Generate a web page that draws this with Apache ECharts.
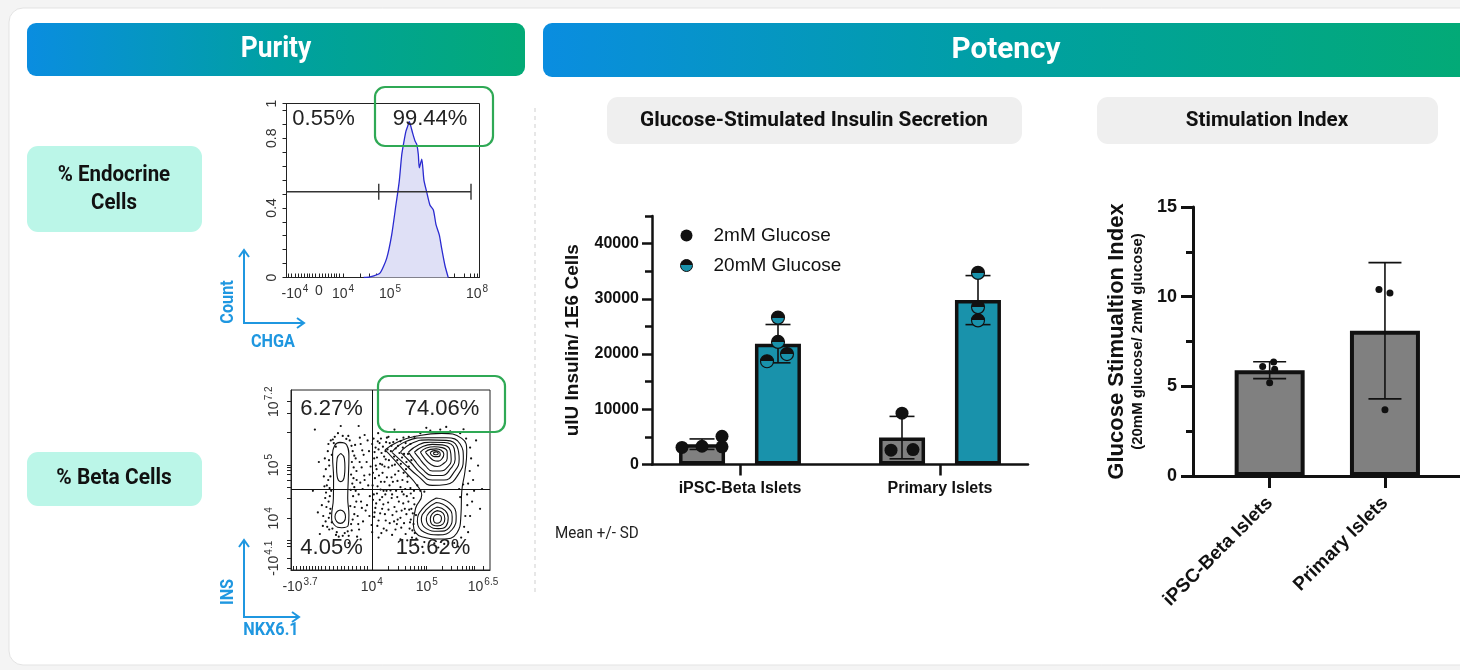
<!DOCTYPE html>
<html>
<head>
<meta charset="utf-8">
<title>Purity and Potency</title>
<script src="https://cdn.jsdelivr.net/npm/echarts@6.0.0/dist/echarts.min.js"></script>
<style>
html,body{margin:0;padding:0;background:#f4f4f4;}
#chart{width:1460px;height:670px;}
</style>
</head>
<body>
<div id="chart"></div>
<script>
// ---------------- data ----------------
// CHGA histogram: display channel (0-100) and normalised count
const HIST_X = [40, 43.3, 48.4, 51.9, 54.5, 56.7, 58.4, 59.7, 60.9, 61.9, 62.8, 63.6, 64.4, 65.4, 66.6, 67.5, 68.3, 68.8, 70.1, 71.2, 72.6, 74.3, 76.1, 77.5, 79.2, 80.4, 82.1, 83.8];
const HIST_Y = [0, 0.003, 0.025, 0.11, 0.245, 0.417, 0.551, 0.704, 0.784, 0.841, 0.87, 0.895, 0.87, 0.828, 0.784, 0.765, 0.707, 0.63, 0.68, 0.56, 0.493, 0.417, 0.388, 0.302, 0.244, 0.167, 0.069, 0];
const HIST_GATE = [47.8, 95.6, 0.493];           // gate from, gate to, drawn at count
const HIST_X_TICKS = [4.4, 16.8, 29.3, 53.6, 98.7];
const HIST_X_LABELS = ['-10^4', '0', '10^4', '10^5', '10^8'];
const HIST_X_MINOR = [1, 2.5, 4.4, 6, 7.5, 9, 10.5, 12, 13.5, 15, 16.8, 18.5, 20, 21.5, 23, 24.5, 26, 27.5, 29.3, 38, 43, 46.5, 49, 51, 52.5, 53.6, 62, 67, 70.5, 73, 75, 76.5, 77.5, 78.4, 87, 92, 95, 97.3, 98.7];
const HIST_Y_TICKS = [0, 0.4, 0.8, 1];
const HIST_Y_LABELS = ['0', '0.4', '0.8', '1'];
const HIST_Y_MINOR = [0, 0.08, 0.16, 0.24, 0.32, 0.4, 0.48, 0.56, 0.64, 0.72, 0.8, 0.88, 0.96, 1];
const HIST_PCT = ['0.55%', '99.44%'];

// NKX6.1 (x) vs INS (y) contour plot, display channels 0-100
const QUAD_SPLIT = [40.6, 44.8];
const CONT_X_TICKS = [4.5, 40.6, 68.2, 96.5];
const CONT_X_LABELS = ['-10^3.7', '10^4', '10^5', '10^6.5'];
const CONT_X_MINOR = [1, 2.5, 4.5, 6, 7.5, 9, 10.5, 12, 13.5, 15, 17, 19, 21, 23, 25, 27, 29, 31, 33, 35, 37, 38.5, 40.6, 48.9, 53.8, 57.2, 59.9, 62.1, 63.9, 65.5, 66.9, 68.2, 76, 80.5, 83.5, 86, 88, 89.5, 91, 92.2, 96.5];
const CONT_Y_TICKS = [6.5, 28.7, 58.3, 93.5];
const CONT_Y_LABELS = ['-10^4.1', '10^4', '10^5', '10^7.2'];
const CONT_Y_MINOR = [0.9, 6.5, 13, 14.8, 16.7, 28.7, 40, 46, 50, 53, 55.5, 57, 58.3, 76.8, 87, 93.5];
const QUAD_PCT = ['6.27%', '74.06%', '4.05%', '15.62%'];

const RINGS_LEFT = [
  [[24.6,70.9],[28.0,69.4],[29.1,63.0],[28.8,50.9],[28.5,39.8],[29.1,30.6],[28.8,25.0],[25.5,23.5],[21.8,25.0],[20.4,29.6],[21.3,39.8],[21.4,50.9],[20.9,63.0],[22.1,69.4]],
  [[25,64.8],[26.8,62],[27.1,57],[26.8,52],[25,49.1],[23.2,52],[22.9,57],[23.2,62]],
  [[24.8,33.3],[26.7,32.2],[27.4,29.6],[26.7,27],[24.8,25.9],[22.9,27],[22.1,29.6],[22.9,32.2]]
];
const RING_OUTER = [[47.2,66.7],[53.9,71.3],[64.0,74.6],[75.7,75.9],[85.8,73.1],[88.3,65.7],[87.4,54.6],[85.8,43.5],[85.4,30.6],[83.3,20.4],[75.7,17.2],[65.7,18.5],[61.5,25],[62.6,34.3],[65.7,41.7],[63.2,47.2],[57.3,54.6],[50.6,62.9]];
const RINGS_UPPER = [
  [[50.6,65.5],[58,71.5],[68,73.5],[78,73.5],[85,70],[86.6,62],[84,53],[78,47.5],[71,47],[64,52],[57,59]],
  [[55,65.5],[61,70.5],[69,72.3],[78,72],[83.5,68.5],[84.5,61.5],[82,54.5],[77,50],[71,50],[65,54],[60,60]],
  [[59,65.5],[64,69.5],[70,71],[77,70.8],[82,67.5],[82.5,61.5],[80,56],[76,52.5],[71,52.5],[66,56],[62,61]],
  [[62,65.5],[66,68.5],[71,69.8],[76,69.5],[80,66.5],[80.5,61.5],[78.5,57],[75,55],[71,55],[67.5,58],[64.5,62]],
  [[65,65.5],[68,67.8],[72,68.5],[76,68],[78.5,65.5],[78.5,62],[76.5,59],[73.5,57.5],[70.5,58.5],[67.5,61.5]],
  [[67.5,65.5],[70,67],[73,67.3],[75.5,66.5],[76.8,64.5],[76,62],[74,60.5],[71.5,61],[69.5,63]],
  [[70,65.3],[72,66.3],[74,66],[75,64.5],[74,63],[72,63],[70.5,64]],
  [[71.5,65],[73,65.6],[74,64.8],[73,64],[72,64.2]]
];
const RINGS_LOWER = [
  [[73,40],[80,37],[83,30],[81,22.5],[74,19.5],[67,21],[63.5,27],[66,34]],
  [[73,37.5],[78.5,35],[81,29.5],[79.5,23.5],[74,21.5],[68,23],[65.5,28],[68,33.5]],
  [[73.5,35],[77.5,33],[79,29],[78,24.5],[74,23],[69.5,24.5],[68,28.5],[70,32.5]],
  [[73.5,33],[76.5,31.5],[77.3,28.5],[76.3,25.5],[73.5,24.5],[70.5,25.8],[70,28.5],[71.2,31.5]],
  [[73.5,31],[75.3,30],[75.6,28.5],[74.8,26.5],[73.3,26],[71.8,27],[71.6,28.7],[72.3,30.3]]
];
// individual events outside the contour levels
const EVENTS = [
  [18.5,66],[19.2,58],[18,47],[19.5,41],[17.8,35],[19,29],[18.2,24],[20,72],[22,74],[26,74.5],[29.5,72],[31,66],[31.5,57],[30.8,48],[31.2,41],[32,35],[31,28],[30.5,22],[27,20.5],[23,21],[20.5,26.5],[19.8,52],[20.2,44],[30.2,53],[30,44.5],[32.5,62],[33,50],[17,62],[16.5,52],[17.2,40],[33.5,30],[29.8,35.5],[19.8,34],[21,72.5],[27.8,72.8],[32.2,69.5],[24,18.5],[29,19],[16.2,30],[34,42],[18.8,70],[30.6,60],[31.8,46],[20.5,64],[22.5,68.5],[32.8,38],[33.8,25.5],[19.2,22.5],
  [17.5,56],[18.7,50],[19.4,45.5],[17.6,43],[18.9,38],[19.6,31.5],[17.4,27],[20.8,23],[22.6,19.5],[26,19],[28.5,21.5],[30.2,25.5],[31.8,31],[32.5,44],[31.4,51],[32.9,55],[31.8,63.5],[30.4,69],[28.8,74.5],[23.6,76],[21.5,70.5],[19.1,61],[34.5,60],[34.8,48.5],[35.6,34.5],[34.2,22.5],[33.2,18.5],[16.8,46.5],[15.5,36],[16,24.5],[35.8,66.5],[34.6,73.5],
  [35,70],[36.5,64],[35.5,57],[37,50],[36,45],[35.2,38],[37.5,33],[36.2,27],[38.5,72],[39.2,66],[38,60],[39.5,53],[38.8,47],[39.6,41],[38.2,36],[39.4,30],[41.5,73],[42.5,68],[41.8,62],[43,56],[42.2,51],[43.5,46.5],[41.6,42],[42.8,37],[42,32],[44.5,70.5],[45.5,65],[44.8,59],[46,54],[45.2,49],[46.5,44],[44.6,39],[45.8,34],[47.8,71],[48.5,67],[47.6,61.5],[49,57],[48.2,51.5],[49.5,47],[47.4,42],[48.8,37.5],[47.2,31],[50.5,69],[51.8,63],[50.8,58],[52.3,53],[51.2,49],[52.8,44],[50.6,40],[52,35],[54.5,65],[55.2,59],[54,55],[56,50],[55,46],[56.6,42],[54.2,38],[55.6,33],[53.6,28],[57.8,56],[58.5,49],[57.4,45],[59,38],[58,31],[56.8,26],[59.6,23],[40.5,25],[44,27.5],[49.6,26],[52.5,22.5],[46.6,23],[37,75],[43.8,76],[40,57.5],[36.8,52.5],[41,47],[45,44.7],[50,44.2],[43.2,62.5],[47,57.5],[53.4,61],[49,74],
  [40.8,70],[42,65.5],[43.6,71.5],[44,67],[45.2,73],[46.2,68.5],[46.8,63],[47.5,66],[48.2,73.5],[49.6,70.5],[50.2,66],[51.4,71],[52.6,67.5],[53.2,72.5],[53.8,69],[55,71.5],[56.2,68],[56.5,73.5],[57.6,70.5],[55.8,62.5],[52.2,58.5],[49.2,61],[45.8,58.5],[42.6,58],[41.2,54],[44.2,52.5],[47,49],[50.5,51.5],[53.5,49.5],[56.6,54],[59.2,57.5],[58.8,64.5],[60.5,61],
  [41.2,39],[43.2,42.5],[45.8,40.5],[48,44],[50.8,42],[53.4,40.5],[55.8,43.5],[58.2,41],[60.2,42.5],[61.8,44],[42.4,34.5],[44.8,31.5],[46.4,36.5],[49,33.5],[51,30.5],[53,32.5],[55,29],[57.2,34],[59.4,33.5],[61.2,31.5],[43.4,24.5],[45.4,20.5],[48,22],[50.8,19.5],[53.2,25.5],[55.4,23.5],[57.6,20],[59.8,26.5],[61.6,25.5],[62.2,20.5],[58.4,16.5],[41.8,29.5],[40.8,21],[47.6,27.5],[51.8,27],[56.4,37],
  [60,70],[62,74],[65,76],[70,77.5],[75,78],[80,77],[85,76],[88,73],[90,68],[90.5,62],[89.8,55],[89,48],[88.5,42],[88.6,36],[87.6,30],[87,24],[85.5,18],[82,15],[77,14.5],[72,14.8],[67,15.5],[63,17.5],[61,22],[60.2,28],[60.5,34],[61.6,40],[60,45.5],[58.6,52],[58,60],[56.8,64.5],[91.5,50],[92,44],[91,38],[90,30],[89,21],[84,13],[74,12.5],[66,12.8],[62.5,14.5],[86.7,78.2],[78,79.5],[68,79],[59.2,74],[63.5,47],[65,44],[67,43.5],[84.5,45],[86.5,47.5],[85,40.5],[62,36.5],[62.8,30.5],[60.8,18],
  [12,78],[14,60],[11,44],[13.5,32],[14.5,20],[25,80],[34,80],[52,78],[94,58],[95,34],[93,72],[44,18],[55,17],[35,17],[29,15],[96,45]
];

// Glucose-stimulated insulin secretion (uIU insulin / 1E6 cells)
const GROUPS = ['iPSC-Beta Islets', 'Primary Islets'];
const GSIS_MEAN_2MM = [3680, 4870];
const GSIS_SD_2MM = [950, 3840];
const GSIS_MEAN_20MM = [21880, 29770];
const GSIS_SD_20MM = [3470, 4440];
const GSIS_PTS_2MM = [[3100, 3300, 3200, 5100], [9300, 2600, 2700]];
const GSIS_PTS_20MM = [[26600, 22200, 18700, 20000], [34700, 28500, 26100]];
const GSIS_TICKS = [0, 10000, 20000, 30000, 40000];
const GSIS_MINOR = [5000, 15000, 25000, 35000, 45000];

// Stimulation index (20mM / 2mM)
const SI_MEAN = [5.9, 8.1];
const SI_SD = [0.47, 3.8];
const SI_PTS = [[6.1, 6.35, 5.95, 5.2], [10.4, 10.2, 3.7]];
const SI_TICKS = [0, 5, 10, 15];
const SI_MINOR = [2.5, 7.5, 12.5];

// ---------------- layout & style ----------------
const ARIAL = '"Liberation Sans", Arial, Helvetica, sans-serif';
const ROBOTO = 'Roboto, "Noto Sans", sans-serif';
const INK = '#111';
const BLUE = '#1f97e0';
const TEAL = '#1992ab';
const GREY = '#808080';
const GATE_GREEN = '#2fa955';
const HALF = new echarts.graphic.LinearGradient(0, 0, 0, 1, [
  {offset: 0, color: INK}, {offset: 0.5, color: INK}, {offset: 0.5, color: TEAL}, {offset: 1, color: TEAL}
]);
// horizontal spread (px) of replicate dots inside each bar
const GSIS_BAR_SHIFT = 38;
const GSIS_SPREAD_2MM = [[-20, 0, 20, 20], [0, -11, 11]];
const GSIS_SPREAD_20MM = [[0, 0, -11, 9], [0, 0, 0]];
const SI_SPREAD = [[-7, 4, 5, 0], [-6, 5, 0]];

const chart = echarts.init(document.getElementById('chart'));

function expRich(s) {
  const i = s.indexOf('^');
  return i < 0 ? '{b|' + s + '}' : '{b|' + s.slice(0, i) + '}{s|' + s.slice(i + 1) + '}';
}
function tickFormatter(ticks, labels) {
  return function (v) {
    let best = 0;
    for (let i = 1; i < ticks.length; i++) if (Math.abs(ticks[i] - v) < Math.abs(ticks[best] - v)) best = i;
    return expRich(labels[best]);
  };
}
const FLOW_RICH = {
  b: {fontSize: 14, fontFamily: ARIAL, color: '#333'},
  s: {fontSize: 10, fontFamily: ARIAL, color: '#333', padding: [0, 0, 10, 1]}
};

function flowX(gridIndex, ticks, labels, minor) {
  return {
    type: 'value', gridIndex, min: 0, max: 100,
    axisLine: {show: true, lineStyle: {color: '#222', width: 1}},
    axisTick: {show: true, inside: true, length: 4, customValues: minor, lineStyle: {color: '#222'}},
    axisLabel: {show: true, customValues: ticks, margin: 7, formatter: tickFormatter(ticks, labels), rich: FLOW_RICH},
    splitLine: {show: false}
  };
}
function flowY(gridIndex, max, ticks, labels, minor, margin) {
  return {
    type: 'value', gridIndex, min: 0, max,
    axisLine: {show: true, lineStyle: {color: '#222', width: 1}},
    axisTick: {show: true, inside: false, length: 4, customValues: minor, lineStyle: {color: '#222'}},
    axisLabel: {show: true, rotate: 90, customValues: ticks, margin, formatter: tickFormatter(ticks, labels), rich: FLOW_RICH},
    splitLine: {show: false}
  };
}
function hiddenValue(gridIndex, min, max) {
  return {type: 'value', gridIndex, min, max, show: false, splitLine: {show: false}};
}
function closeRing(r) { return r.concat([r[0]]); }
function ringSeries(ring) {
  return {
    type: 'line', xAxisIndex: 1, yAxisIndex: 1, data: closeRing(ring), smooth: 0.5,
    showSymbol: false, silent: true, z: 4,
    lineStyle: {color: INK, width: 1.1}
  };
}
function errorBars(axisIndex, means, sds, dx, capW, lw) {
  return {
    type: 'custom', xAxisIndex: axisIndex, yAxisIndex: axisIndex, z: 5, silent: true,
    data: means.map((m, i) => [i, m, sds[i]]),
    renderItem: function (params, api) {
      const c = api.value(0), m = api.value(1), s = api.value(2);
      const top = api.coord([c, m + s]), bot = api.coord([c, m - s]);
      const x = top[0] + dx;
      const style = {stroke: INK, lineWidth: lw};
      return {type: 'group', children: [
        {type: 'line', shape: {x1: x, y1: top[1], x2: x, y2: bot[1]}, style},
        {type: 'line', shape: {x1: x - capW / 2, y1: top[1], x2: x + capW / 2, y2: top[1]}, style},
        {type: 'line', shape: {x1: x - capW / 2, y1: bot[1], x2: x + capW / 2, y2: bot[1]}, style}
      ]};
    }
  };
}
function replicateData(groups, shift, spread) {
  const out = [];
  groups.forEach((vals, g) => vals.forEach((v, k) => out.push({value: [g, v], symbolOffset: [shift + spread[g][k], 0]})));
  return out;
}

// ---------------- page decoration ----------------
function txt(text, x, y, o) {
  o = o || {};
  return {
    type: 'text', x, y, rotation: o.rot || 0, scaleX: o.sx || 1, z: 100, silent: true,
    style: {text, fill: o.color || INK, fontSize: o.size || 16, fontWeight: o.weight || 'normal',
      fontFamily: o.font || ROBOTO, align: o.align || 'center', verticalAlign: 'middle'}
  };
}
function banner(text, x, y, w, h, sx) {
  return [
    {type: 'rect', z: 90, silent: true, shape: {x, y, width: w, height: h, r: 9},
      style: {fill: new echarts.graphic.LinearGradient(0, 0, 1, 0, [
        {offset: 0, color: '#0a8de0'}, {offset: 0.5, color: '#00a0a2'}, {offset: 1, color: '#03aa76'}])}},
    txt(text, x + w / 2, y + h / 2, {size: 30, weight: 'bold', color: '#fff', sx})
  ];
}
function box(x, y, w, h, fill) {
  return {type: 'rect', z: 90, silent: true, shape: {x, y, width: w, height: h, r: 11}, style: {fill}};
}
function outline(x, y, w, h) {
  return {type: 'rect', z: 100, silent: true, shape: {x, y, width: w, height: h, r: 10},
    style: {fill: 'none', stroke: GATE_GREEN, lineWidth: 2.2}};
}
function arrows(x0, yTop, yCorner, xRight) {
  const st = {stroke: BLUE, lineWidth: 2, fill: 'none'};
  return [
    {type: 'polyline', z: 100, silent: true, shape: {points: [[x0, yTop], [x0, yCorner], [xRight, yCorner]]}, style: st},
    {type: 'polyline', z: 100, silent: true, shape: {points: [[x0 - 5, yTop + 7], [x0, yTop], [x0 + 5, yTop + 7]]}, style: st},
    {type: 'polyline', z: 100, silent: true, shape: {points: [[xRight - 7, yCorner - 5], [xRight, yCorner], [xRight - 7, yCorner + 5]]}, style: st}
  ];
}

const PCT_STYLE = {size: 22, font: ARIAL, color: '#222'};
const graphics = [].concat(
  [{type: 'rect', z: -10, silent: true, shape: {x: 9, y: 8, width: 1480, height: 657, r: 14},
    style: {fill: '#fff', stroke: '#e3e3e3', lineWidth: 1}}],
  banner('Purity', 27, 23, 498, 53, 0.88),
  banner('Potency', 543, 23, 926, 54, 0.99),
  [box(27, 146, 175, 86, '#bbf6e8'), box(27, 452, 175, 54, '#bbf6e8'),
   txt('% Endocrine', 114, 175, {size: 22, weight: 'bold', sx: 0.93}),
   txt('Cells', 114, 203.5, {size: 22, weight: 'bold', sx: 0.93}),
   txt('% Beta Cells', 114, 478.5, {size: 22, weight: 'bold', sx: 0.95})],
  [{type: 'line', z: 100, silent: true, shape: {x1: 535, y1: 108, x2: 535, y2: 592},
    style: {stroke: '#cfcfcf', lineWidth: 1, lineDash: [4, 4]}}],
  arrows(244, 250, 323, 304),
  [txt('Count', 228, 302, {size: 18, weight: 'bold', color: BLUE, sx: 0.9, rot: Math.PI / 2}),
   txt('CHGA', 273, 342, {size: 18, weight: 'bold', color: BLUE, sx: 0.9})],
  arrows(244, 540, 617, 299),
  [txt('INS', 228, 592, {size: 18, weight: 'bold', color: BLUE, sx: 0.9, rot: Math.PI / 2}),
   txt('NKX6.1', 271, 630, {size: 18, weight: 'bold', color: BLUE, sx: 0.9})],
  [outline(375, 87, 118, 59), outline(378, 376, 127, 56),
   txt(HIST_PCT[0], 323.5, 118.5, PCT_STYLE), txt(HIST_PCT[1], 430, 118.5, PCT_STYLE),
   txt(QUAD_PCT[0], 331.5, 408.5, PCT_STYLE), txt(QUAD_PCT[1], 442, 408.5, PCT_STYLE),
   txt(QUAD_PCT[2], 331.5, 548, PCT_STYLE), txt(QUAD_PCT[3], 433, 548, PCT_STYLE)],
  [box(607, 97, 415, 47, '#efefef'), box(1097, 97, 341, 47, '#efefef'),
   txt('Glucose-Stimulated Insulin Secretion', 814, 121, {size: 21, weight: 'bold', sx: 0.99}),
   txt('Stimulation Index', 1267, 121, {size: 21, weight: 'bold', sx: 0.98}),
   txt('Mean +/- SD', 555, 534, {size: 16, sx: 0.95, align: 'left', color: '#222'})]
);

// ---------------- chart ----------------
const BOLD_TICK = {fontFamily: ARIAL, fontWeight: 'bold', color: INK};
const plain = v => String(v);

const option = {
  animation: false,
  backgroundColor: '#f4f4f4',
  graphic: {elements: graphics},
  legend: {
    data: [
      {name: '2mM Glucose', itemStyle: {color: INK, opacity: 1}},
      {name: '20mM Glucose', itemStyle: {color: HALF, borderColor: INK, borderWidth: 1, opacity: 1}}
    ],
    orient: 'vertical', left: 675, top: 221, itemWidth: 12, itemHeight: 12, itemGap: 11,
    icon: 'circle', selectedMode: false,
    textStyle: {fontSize: 19, fontFamily: ARIAL, color: INK, padding: [0, 0, 0, 16]}
  },
  grid: [
    {left: 286.5, top: 103.5, width: 193, height: 174, show: true, borderColor: '#222', borderWidth: 1},
    {left: 291, top: 390, width: 199, height: 180, show: true, borderColor: '#222', borderWidth: 1},
    {left: 640, top: 216, width: 400, height: 248.5},
    {left: 652, top: 216, width: 376, height: 248.5},
    {left: 1212, top: 207, width: 230.6, height: 269},
    {left: 1193, top: 207, width: 280, height: 269},
    {left: 652, top: 216, width: 376, height: 248.5},
    {left: 1193, top: 207, width: 280, height: 269}
  ],
  xAxis: [
    flowX(0, HIST_X_TICKS, HIST_X_LABELS, HIST_X_MINOR),
    flowX(1, CONT_X_TICKS, CONT_X_LABELS, CONT_X_MINOR),
    {type: 'category', gridIndex: 2, data: GROUPS,
      axisLine: {show: false},
      axisTick: {show: true, alignWithLabel: true, length: 11, lineStyle: {color: INK, width: 2.5}},
      axisLabel: Object.assign({fontSize: 16, margin: 16}, BOLD_TICK)},
    {type: 'value', gridIndex: 3, min: 0, max: 1,
      axisLine: {show: true, onZero: false, lineStyle: {color: INK, width: 2.5}},
      axisTick: {show: false}, axisLabel: {show: false}, splitLine: {show: false}},
    {type: 'category', gridIndex: 4, data: GROUPS,
      axisLine: {show: false},
      axisTick: {show: true, alignWithLabel: true, length: 12, lineStyle: {color: INK, width: 3}},
      axisLabel: Object.assign({fontSize: 19, margin: 24, rotate: 45}, BOLD_TICK)},
    {type: 'value', gridIndex: 5, min: 0, max: 1,
      axisLine: {show: true, onZero: false, lineStyle: {color: INK, width: 3}},
      axisTick: {show: false}, axisLabel: {show: false}, splitLine: {show: false}},
    hiddenValue(6, 0, 1),
    hiddenValue(7, 0, 1)
  ],
  yAxis: [
    flowY(0, 1, HIST_Y_TICKS, HIST_Y_LABELS, HIST_Y_MINOR, 7),
    flowY(1, 100, CONT_Y_TICKS, CONT_Y_LABELS, CONT_Y_MINOR, 7),
    hiddenValue(2, 0, 45000),
    {type: 'value', gridIndex: 3, min: 0, max: 45000,
      name: 'uIU Insulin/ 1E6 Cells', nameLocation: 'middle', nameGap: 70,
      nameTextStyle: {fontSize: 19, fontFamily: ARIAL, fontWeight: 'bold', color: INK},
      axisLine: {show: true, lineStyle: {color: INK, width: 2.5}},
      axisTick: {show: true, length: 10, customValues: GSIS_TICKS, lineStyle: {color: INK, width: 2.5}},
      axisLabel: Object.assign({fontSize: 16, margin: 13, customValues: GSIS_TICKS, formatter: plain}, BOLD_TICK),
      splitLine: {show: false}},
    hiddenValue(4, 0, 15),
    {type: 'value', gridIndex: 5, min: 0, max: 15,
      name: '{a|Glucose Stimualtion Index}\n{b|(20mM glucose/ 2mM glucose)}',
      nameLocation: 'middle', nameGap: 46,
      nameTextStyle: {color: INK, rich: {
        a: {fontSize: 22, fontFamily: ARIAL, fontWeight: 'bold', color: INK, lineHeight: 24},
        b: {fontSize: 15, fontFamily: ARIAL, fontWeight: 'bold', color: INK, lineHeight: 18}}},
      axisLine: {show: true, lineStyle: {color: INK, width: 3}},
      axisTick: {show: true, length: 12, customValues: SI_TICKS, lineStyle: {color: INK, width: 3}},
      axisLabel: Object.assign({fontSize: 18, margin: 16, customValues: SI_TICKS, formatter: plain}, BOLD_TICK),
      splitLine: {show: false}},
    {type: 'value', gridIndex: 6, min: 0, max: 45000,
      axisLine: {show: false},
      axisTick: {show: true, length: 7, customValues: GSIS_MINOR, lineStyle: {color: INK, width: 2.5}},
      axisLabel: {show: false}, splitLine: {show: false}},
    {type: 'value', gridIndex: 7, min: 0, max: 15,
      axisLine: {show: false},
      axisTick: {show: true, length: 7, customValues: SI_MINOR, lineStyle: {color: INK, width: 3}},
      axisLabel: {show: false}, splitLine: {show: false}}
  ],
  series: [
    // CHGA histogram
    {type: 'line', name: 'CHGA', xAxisIndex: 0, yAxisIndex: 0, silent: true,
      data: HIST_X.map((x, i) => [x, HIST_Y[i]]), smooth: 0.2, showSymbol: false,
      lineStyle: {color: '#2a2ad0', width: 1.3}, areaStyle: {color: '#dfe0f6', opacity: 1}, z: 3},
    {type: 'custom', xAxisIndex: 0, yAxisIndex: 0, silent: true, z: 5,
      data: [HIST_GATE],
      renderItem: function (params, api) {
        const a = api.coord([api.value(0), api.value(2)]);
        const b = api.coord([api.value(1), api.value(2)]);
        const st = {stroke: '#333', lineWidth: 1.4};
        return {type: 'group', children: [
          {type: 'line', shape: {x1: api.coord([0, 0])[0], y1: a[1], x2: b[0], y2: b[1]}, style: st},
          {type: 'line', shape: {x1: a[0], y1: a[1] - 8, x2: a[0], y2: a[1] + 8}, style: st},
          {type: 'line', shape: {x1: b[0], y1: b[1] - 8, x2: b[0], y2: b[1] + 8}, style: st}
        ]};
      }},
    // NKX6.1 / INS events with quadrant gate
    {type: 'scatter', name: 'events', xAxisIndex: 1, yAxisIndex: 1, silent: true, z: 3,
      data: EVENTS, symbolSize: 2.2, itemStyle: {color: INK, opacity: 1},
      markLine: {silent: true, symbol: 'none', label: {show: false},
        lineStyle: {color: INK, width: 1, type: 'solid'},
        data: [{xAxis: QUAD_SPLIT[0]}, {yAxis: QUAD_SPLIT[1]}]}},
    ...RINGS_LEFT.map(ringSeries),
    ringSeries(RING_OUTER),
    ...RINGS_UPPER.map(ringSeries),
    ...RINGS_LOWER.map(ringSeries),
    // GSIS bars, error bars, replicates
    {type: 'bar', name: '2mM mean', xAxisIndex: 2, yAxisIndex: 2, data: GSIS_MEAN_2MM,
      barWidth: 46, barGap: '65%', z: 2, itemStyle: {color: GREY, borderColor: INK, borderWidth: 3.5}},
    {type: 'bar', name: '20mM mean', xAxisIndex: 2, yAxisIndex: 2, data: GSIS_MEAN_20MM,
      barWidth: 46, barGap: '65%', z: 2, itemStyle: {color: TEAL, borderColor: INK, borderWidth: 3.5}},
    errorBars(2, GSIS_MEAN_2MM, GSIS_SD_2MM, -GSIS_BAR_SHIFT, 25, 1.6),
    errorBars(2, GSIS_MEAN_20MM, GSIS_SD_20MM, GSIS_BAR_SHIFT, 25, 1.6),
    {type: 'scatter', name: '2mM Glucose', xAxisIndex: 2, yAxisIndex: 2, z: 6,
      data: replicateData(GSIS_PTS_2MM, -GSIS_BAR_SHIFT, GSIS_SPREAD_2MM),
      symbol: 'circle', symbolSize: 13, itemStyle: {color: INK, opacity: 1}},
    {type: 'scatter', name: '20mM Glucose', xAxisIndex: 2, yAxisIndex: 2, z: 6,
      data: replicateData(GSIS_PTS_20MM, GSIS_BAR_SHIFT, GSIS_SPREAD_20MM),
      symbol: 'circle', symbolSize: 13, itemStyle: {color: HALF, borderColor: INK, borderWidth: 1.2, opacity: 1}},
    // Stimulation index
    {type: 'bar', name: 'SI mean', xAxisIndex: 4, yAxisIndex: 4, data: SI_MEAN,
      barWidth: 70, z: 2, itemStyle: {color: GREY, borderColor: INK, borderWidth: 4}},
    errorBars(4, SI_MEAN, SI_SD, 0, 33, 1.6),
    {type: 'scatter', name: 'SI replicate', xAxisIndex: 4, yAxisIndex: 4, z: 6,
      data: replicateData(SI_PTS, 0, SI_SPREAD), symbolSize: 7, itemStyle: {color: INK, opacity: 1}}
  ]
};
chart.setOption(option);
</script>
</body>
</html>
